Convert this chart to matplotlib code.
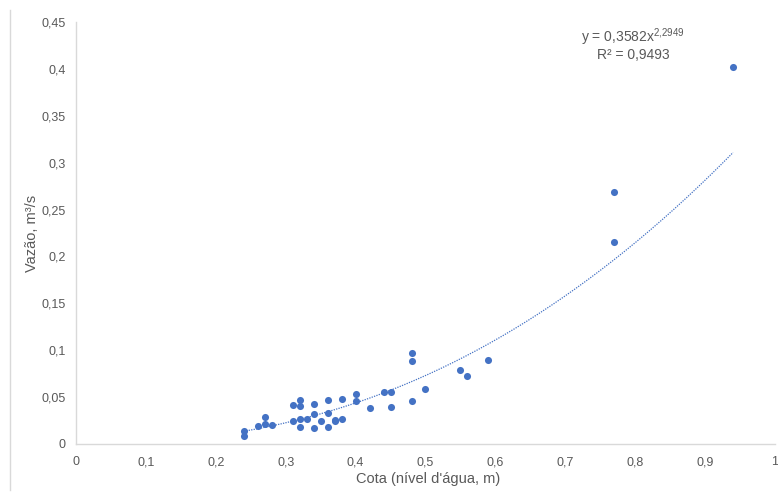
import matplotlib
matplotlib.use("Agg")
import matplotlib.pyplot as plt
import numpy as np
from matplotlib.ticker import FuncFormatter, MultipleLocator

plt.rcParams['font.family'] = ['Liberation Sans', 'DejaVu Sans']
plt.rcParams['mathtext.fontset'] = 'custom'
plt.rcParams['mathtext.rm'] = 'Liberation Sans'
plt.rcParams['mathtext.default'] = 'regular'

#-------dados-------
cota = [0.24, 0.24, 0.26, 0.27, 0.27, 0.28, 0.31, 0.31, 0.32, 0.32, 0.32, 0.32,
        0.33, 0.34, 0.34, 0.34, 0.35, 0.36, 0.36, 0.36, 0.37, 0.37, 0.38, 0.38,
        0.40, 0.40, 0.42, 0.44, 0.45, 0.45, 0.48, 0.48, 0.48, 0.50, 0.55, 0.56,
        0.59, 0.77, 0.77, 0.94]
vazao = [0.014, 0.009, 0.019, 0.029, 0.021, 0.020, 0.042, 0.025, 0.047, 0.041, 0.027, 0.018,
         0.027, 0.043, 0.032, 0.017, 0.024, 0.047, 0.033, 0.018, 0.026, 0.024, 0.048, 0.027,
         0.053, 0.046, 0.038, 0.055, 0.055, 0.039, 0.097, 0.089, 0.046, 0.059, 0.079, 0.073,
         0.090, 0.269, 0.215, 0.402]

# linha de tendencia (potencia) do Excel
a, b = 0.3582, 2.2949

fig = plt.figure(figsize=(7.78, 4.92), dpi=100)
ax = fig.add_axes([0.0977, 0.0976, 0.8984, 0.8577])

azul = '#4472C4'
cinza = '#595959'

ax.scatter(cota, vazao, s=26, color=azul, zorder=3, linewidths=0)
xt = np.linspace(min(cota), max(cota), 200)
ax.plot(xt, a * xt**b, color=azul, lw=0.9, ls=(0, (1, 1)), zorder=2)

ax.set_xlim(0, 1)
ax.set_ylim(0, 0.45)
ax.xaxis.set_major_locator(MultipleLocator(0.1))
ax.yaxis.set_major_locator(MultipleLocator(0.05))
fmt = FuncFormatter(lambda v, p: ('%g' % round(v, 2)).replace('.', ','))
ax.xaxis.set_major_formatter(fmt)
ax.yaxis.set_major_formatter(fmt)
ax.tick_params(length=0, labelsize=9, labelcolor=cinza)
ax.tick_params(axis='x', pad=9)
ax.tick_params(axis='y', pad=7.5)

for s in ['top', 'right']:
    ax.spines[s].set_visible(False)
for s in ['left', 'bottom']:
    ax.spines[s].set_color('#d9d9d9')
    ax.spines[s].set_linewidth(1)

fig.text(428/778, 1 - 479/492, "Cota (nível d'água, m)", fontsize=10.5, color=cinza,
         ha='center', va='center')
fig.text(32/778, 1 - 233/492, "Vazão, m³/s", fontsize=10.5, color=cinza,
         ha='center', va='center', rotation=90)

ax.text(0.797, 0.4335, "y = 0,3582x$^{2{,}2949}$", fontsize=10, color=cinza, ha='center', va='center')
ax.text(0.797, 0.4150, "R² = 0,9493", fontsize=10, color=cinza, ha='center', va='center')

# borda esquerda do quadro
fig.add_artist(plt.Line2D([10/778, 10/778], [2/492, 482/492], color='#d9d9d9', lw=1,
                          transform=fig.transFigure))

fig.savefig('out.png', dpi=100)
